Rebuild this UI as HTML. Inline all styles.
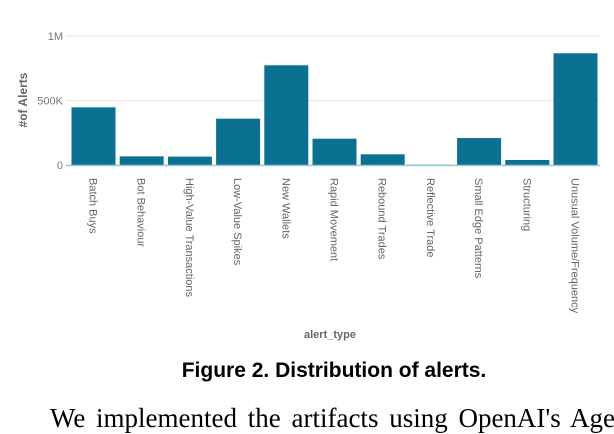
<!DOCTYPE html>
<html><head><meta charset="utf-8"><style>
body{margin:0;width:614px;height:414px;overflow:hidden;background:#fff;font-family:"Liberation Sans",sans-serif;position:relative}
svg{position:absolute;left:0;top:0}
.cap{position:absolute;left:0;width:668px;text-align:center;top:359px;font-weight:bold;font-size:21px;color:#000}
.body{position:absolute;left:50px;top:403px;font-family:"Liberation Serif",serif;font-size:27px;white-space:nowrap;color:#000;word-spacing:4px}
</style></head><body>
<svg id="chart" width="614" height="414"></svg>
<div class="cap">Figure 2. Distribution of alerts.</div>
<div class="body">We implemented the artifacts using OpenAI's Agent</div>
<script>
const categories=["Batch Buys","Bot Behaviour","High-Value Transactions","Low-Value Spikes","New Wallets","Rapid Movement","Rebound Trades","Reflective Trade","Small Edge Patterns","Structuring","Unusual Volume/Frequency"];
const values=[447000,67000,65000,359000,773000,204000,83000,2000,209000,39000,866000];
const yTicks=[0,500000,1000000];
const yTickLabels=["0","500K","1M"];
const svg=document.getElementById('chart');
const NS="http://www.w3.org/2000/svg";
const y0=165,y1=36,left=66,right=600;
function y(v){return y0-(v/1000000)*(y0-y1);}
const step=48.2,bw=44;
function xb(i){return 71.5+i*step;}
function mk(t,a){const e=document.createElementNS(NS,t);for(const k in a)e.setAttribute(k,a[k]);svg.appendChild(e);return e;}
yTicks.forEach((t,i)=>{
 const g=mk('line',{x1:left,x2:right,y1:y(t),y2:y(t),stroke:'#e6e6e6','stroke-width':1});
 
 
 const l=mk('text',{x:left-3,y:y(t)+4,'text-anchor':'end','font-size':11,fill:'#777'});
 l.textContent=yTickLabels[i];
 
 
});
values.forEach((v,i)=>{
 const r=mk('rect',{x:xb(i),y:y(v),width:bw,height:y0-y(v),fill:'#0b7193'});
 
 
 const c=xb(i)+bw/2;
 const t=mk('text',{transform:`translate(${c-4},178) rotate(90)`,'font-size':11,fill:'#666'});
 t.textContent=categories[i];
 
 
});
const ax=mk('line',{x1:left,x2:right,y1:y0+0.5,y2:y0+0.5,stroke:'#9cc9d6','stroke-width':1.5});


const yt=mk('text',{transform:'translate(27,100) rotate(-90)','text-anchor':'middle','font-size':12,'font-weight':'bold',fill:'#666'});
yt.textContent='#of Alerts';


const xt=mk('text',{x:330,y:338,'text-anchor':'middle','font-size':11,'font-weight':'bold',fill:'#666'});
xt.textContent='alert_type';


</script>
</body></html>
